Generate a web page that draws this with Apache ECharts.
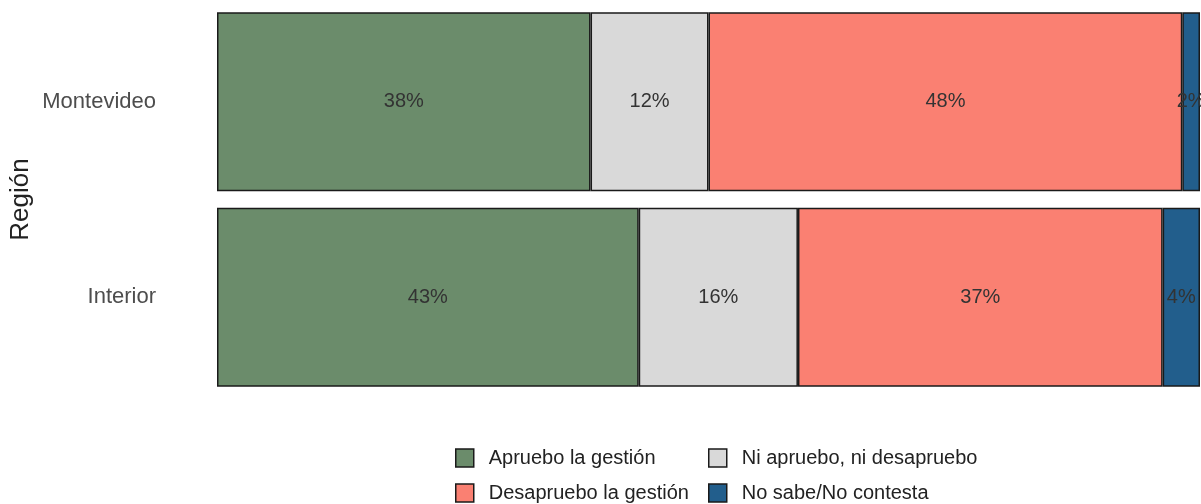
<!DOCTYPE html>
<html>
<head>
<meta charset="utf-8">
<script src="https://cdn.jsdelivr.net/npm/echarts@6/dist/echarts.min.js"></script>
<style>
html,body{margin:0;padding:0;background:#fff;}
#chart{width:1201px;height:504px;}
</style>
</head>
<body>
<div id="chart"></div>
<script>
const categories = ['Montevideo', 'Interior'];
const seriesNames = ['Apruebo la gestión', 'Ni apruebo, ni desapruebo', 'Desapruebo la gestión', 'No sabe/No contesta'];
const apruebo = [38.0, 42.9];
const niNi = [12.0, 16.2];
const desapruebo = [48.2, 37.1];
const noSabe = [1.8, 3.8];
const colors = ['#6B8C6B', '#D9D9D9', '#FA8072', '#225E8C'];

const values = [apruebo, niNi, desapruebo, noSabe];
const chart = echarts.init(document.getElementById('chart'), null, {renderer: 'canvas'});
const font = '"Liberation Sans", Arial, sans-serif';

const series = seriesNames.map((name, i) => ({
  name: name,
  type: 'bar',
  stack: 'total',
  barWidth: '91.5%',
  data: values[i],
  itemStyle: {color: colors[i], borderColor: '#1a1a1a', borderWidth: 1.5},
  label: {
    show: true,
    position: 'inside',
    formatter: p => Math.round(p.value) + '%',
    color: '#333333',
    fontSize: 20,
    fontFamily: font
  },
  emphasis: {disabled: true}
}));

const legendCommon = {
  orient: 'horizontal',
  itemWidth: 18,
  itemHeight: 18,
  icon: 'rect',
  selectedMode: false,
  itemStyle: {borderColor: '#1a1a1a', borderWidth: 1.5},
  textStyle: {fontSize: 20, fontFamily: font, color: '#222', padding: [0, 0, 0, 10]}
};
const legendPos = [[450, 443], [703, 443], [450, 478], [703, 478]];
const legendOrder = [0, 1, 2, 3];

chart.setOption({
  animation: false,
  backgroundColor: '#ffffff',
  color: colors,
  grid: {left: 217, right: 1, top: 4, bottom: 109, containLabel: false, outerBoundsMode: 'none'},
  xAxis: {
    type: 'value', min: 0, max: 100, show: false
  },
  yAxis: {
    type: 'category',
    data: categories,
    inverse: true,
    axisLine: {show: false},
    axisTick: {show: false},
    splitLine: {show: false},
    axisLabel: {margin: 61, fontSize: 22, fontFamily: font, color: '#4D4D4D'},
    name: 'Región',
    nameLocation: 'middle',
    nameRotate: 90,
    nameGap: 183,
    nameMoveOverlap: false,
    nameTextStyle: {fontSize: 26, fontFamily: font, color: '#222'}
  },
  legend: legendOrder.map(i => Object.assign({left: legendPos[i][0], top: legendPos[i][1], data: [seriesNames[i]]}, legendCommon)),
  series: series
});
</script>
</body>
</html>
